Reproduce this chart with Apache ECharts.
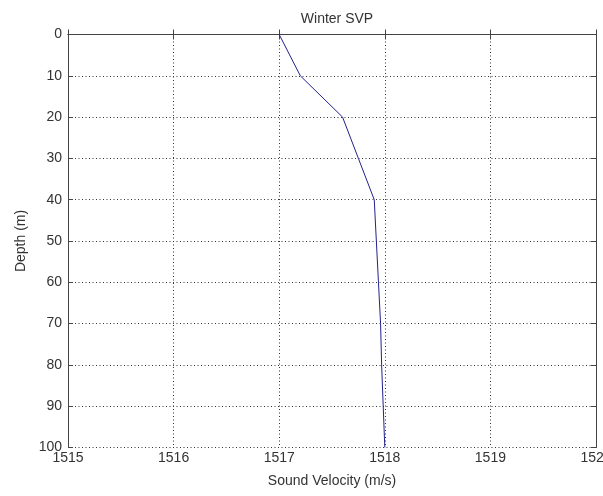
<!DOCTYPE html>
<html>
<head>
<meta charset="utf-8">
<script src="https://cdn.jsdelivr.net/npm/echarts@6/dist/echarts.min.js"></script>
<style>html,body{margin:0;padding:0;background:#fff;}#c{width:603px;height:496px;}</style>
</head>
<body>
<div id="c"></div>
<script>
const depths = [0, 10, 20, 30, 40, 50, 60, 70, 80, 90, 100];
const velocities = [1517.0, 1517.2, 1517.6, 1517.75, 1517.9, 1517.92, 1517.94, 1517.96, 1517.97, 1517.985, 1518.0];
const titleText = 'Winter SVP';
const xName = 'Sound Velocity (m/s)';
const yName = 'Depth (m)';

const chart = echarts.init(document.getElementById('c'), null, {renderer: 'canvas'});
const font = 'Liberation Sans, Arial, sans-serif';
const txt = '#333';
const lineCol = '#444';
const split = {show: true, lineStyle: {color: '#333', type: [1, 2.5], width: 1}};
chart.setOption({
  animation: false,
  backgroundColor: '#fff',
  title: {text: titleText, left: 332, top: 7, textAlign: 'center',
    textStyle: {fontFamily: font, fontSize: 14, fontWeight: 'normal', color: txt}},
  grid: {left: 68, right: 7, top: 34.5, bottom: 48.5, containLabel: false, outerBoundsMode: 'none'},
  xAxis: [
    {type: 'value', position: 'bottom', min: 1515, max: 1520, interval: 1,
     name: xName, nameLocation: 'middle', nameGap: 27,
     nameTextStyle: {fontFamily: font, fontSize: 14, color: txt},
     axisLine: {show: true, lineStyle: {color: lineCol, width: 1}},
     axisTick: {show: true, inside: true, length: 5, lineStyle: {color: lineCol}},
     axisLabel: {fontFamily: font, fontSize: 14, color: txt, margin: 4, showMaxLabel: true,
       formatter: v => String(v)},
     splitLine: split},
    {type: 'value', position: 'top', min: 1515, max: 1520, interval: 1,
     axisLine: {show: true, lineStyle: {color: lineCol, width: 1}},
     axisTick: {show: true, inside: true, length: 5, lineStyle: {color: lineCol}},
     axisLabel: {show: false}, splitLine: {show: false}}
  ],
  yAxis: [
    {type: 'value', position: 'left', inverse: true, min: 0, max: 100, interval: 10,
     name: yName, nameLocation: 'middle', nameGap: 40, nameRotate: 90,
     nameTextStyle: {fontFamily: font, fontSize: 14, color: txt},
     axisLine: {show: true, lineStyle: {color: lineCol, width: 1}},
     axisTick: {show: true, inside: true, length: 5, lineStyle: {color: lineCol}},
     axisLabel: {fontFamily: font, fontSize: 14, color: txt, margin: 6, formatter: v => String(v)},
     splitLine: split},
    {type: 'value', position: 'right', inverse: true, min: 0, max: 100, interval: 10,
     axisLine: {show: true, lineStyle: {color: lineCol, width: 1}},
     axisTick: {show: true, inside: true, length: 5, lineStyle: {color: lineCol}},
     axisLabel: {show: false}, splitLine: {show: false}}
  ],
  series: [{
    type: 'line', xAxisIndex: 0, yAxisIndex: 0,
    data: depths.map((d, i) => [velocities[i], d]),
    showSymbol: false, symbol: 'none',
    lineStyle: {color: '#22228e', width: 1}
  }]
});
</script>
</body>
</html>
